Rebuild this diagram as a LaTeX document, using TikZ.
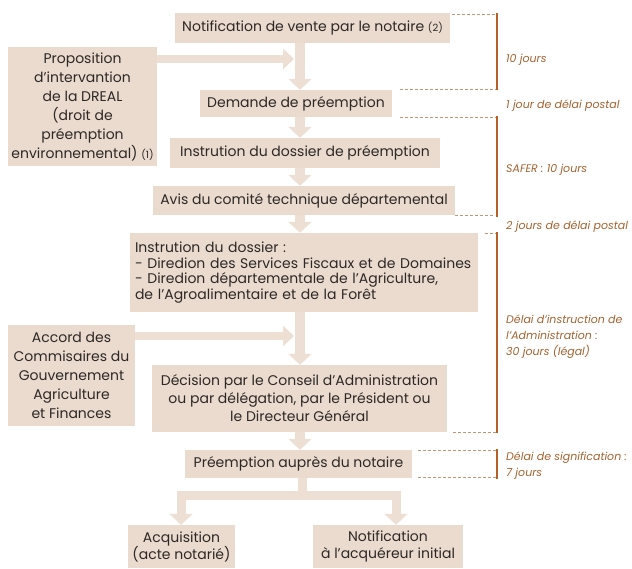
\documentclass[tikz,border=0pt]{standalone}
\usepackage{fontspec}
\setmainfont{Poppins}
\usetikzlibrary{arrows.meta}
\definecolor{boxfill}{RGB}{234,219,206}
\definecolor{arrowfill}{RGB}{237,223,211}
\definecolor{brownline}{RGB}{178,96,38}
\definecolor{labeltext}{RGB}{163,98,48}
\definecolor{boxtext}{RGB}{45,40,38}
\definecolor{dashcol}{RGB}{195,150,115}
\begin{document}
\begin{tikzpicture}[x=1pt,y=-1pt,
  box/.style={fill=boxfill, text=boxtext, inner sep=0pt, align=center,
    font=\fontsize{14}{18}\selectfont},
  flow/.style={draw=arrowfill, line width=10pt, -{Triangle[width=23pt,length=11pt]}},
  sideflow/.style={draw=arrowfill, line width=8pt, -{Triangle[width=20pt,length=11pt]}},
  bracket/.style={draw=brownline, line width=2.5pt},
  dashline/.style={draw=dashcol, line width=0.9pt, dash pattern=on 3pt off 2pt},
  delay/.style={anchor=west, text=labeltext, align=left, inner sep=0pt,
    font=\fontsize{11}{16}\selectfont\itshape}
]
\useasboundingbox (0,0) rectangle (632,568);

% main boxes
\node[box, minimum width=275pt, minimum height=30pt] (b1) at (312.5,28)
  {Notification de vente par le notaire {\fontsize{10}{10}\selectfont(2)}};
\node[box, minimum width=192pt, minimum height=27pt] (b2) at (296,103.5)
  {Demande de préemption};
\node[box, minimum width=270pt, minimum height=30pt] (b3) at (305,153)
  {Instrution du dossier de préemption};
\node[box, minimum width=302pt, minimum height=29pt] (b4) at (304,200.5)
  {Avis du comité technique départemental};
\node[box, minimum width=348pt, minimum height=79pt, text width=338pt, align=left,
  font=\fontsize{14}{15.8}\selectfont] (b5) at (304,272.5)
  {Instrution du dossier :\\
   - Diredion des Services Fiscaux et de Domaines\\
   - Diredion départementale de l’Agriculture,\\
   de l’Agroalimentaire et de la Forêt};
\node[box, minimum width=295pt, minimum height=67pt] (b6) at (299.5,398.5)
  {Décision par le Conseil d’Administration\\
   ou par délégation, par le Président ou\\
   le Directeur Général};
\node[box, minimum width=227pt, minimum height=28pt] (b7) at (298.5,464)
  {Préemption auprès du notaire};
\node[box, minimum width=107pt, minimum height=43pt, font=\fontsize{14}{17}\selectfont] (b8) at (181.5,546.5)
  {Acquisition\\(acte notarié)};
\node[box, minimum width=150pt, minimum height=43pt, font=\fontsize{14}{17}\selectfont] (b9) at (388,546.5)
  {Notification\\à l’acquéreur initial};

% side boxes
\node[box, minimum width=149pt, minimum height=119pt, font=\fontsize{14}{19}\selectfont] (l1) at (82.5,106.5)
  {Proposition\\d’intervantion\\de la DREAL\\(droit de\\préemption\\environnemental) {\fontsize{10}{10}\selectfont(1)}};
\node[box, minimum width=127pt, minimum height=101pt, font=\fontsize{14}{19}\selectfont] (l2) at (71.5,375.5)
  {Accord des\\Commisaires du\\Gouvernement\\Agriculture\\et Finances};

% flow arrows
\coordinate (col) at (300,0);
\coordinate (col2) at (302,0);
\coordinate (j1) at (294,59);
\coordinate (j2) at (294,336);
\coordinate (bar) at (0,495);
\coordinate (rc) at (396,0);
\coordinate (lc) at (181,0);
\draw[flow] (col |- b1.south) -- (col |- b2.north);
\draw[flow] (col |- b2.south) -- (col |- b3.north);
\draw[flow] (col |- b3.south) -- (col |- b4.north);
\draw[flow] (col |- b4.south) -- (col |- b5.north);
\draw[flow] (col |- b5.south) -- (col |- b6.north);
\draw[flow] (col |- b6.south) -- (col |- b7.north);
\draw[sideflow] (l1.east |- j1) -- (j1);
\draw[sideflow] (l2.east |- j2) -- (j2);
\draw[flow, line width=9pt] (col2 |- b7.south) -- (col2 |- bar) -| (lc |- b8.north);
\draw[flow, line width=9pt] (col2 |- b7.south) -- (col2 |- bar) -| (rc |- b9.north);

% delay brackets
\draw[dashline] (452,14) -- (497,14);
\draw[dashline] (400,89.5) -- (497,89.5);
\draw[bracket] (497,13) -- (497,90);
\draw[dashline] (400,117) -- (497,117);
\draw[dashline] (455,215) -- (495,215);
\draw[bracket] (497,116) -- (497,217);
\draw[dashline] (485,233.5) -- (497,233.5);
\draw[dashline] (453,432) -- (497,432);
\draw[bracket] (497,232) -- (497,433);
\draw[dashline] (418,450.5) -- (497,450.5);
\draw[dashline] (418,477.5) -- (497,477.5);
\draw[bracket] (497,449) -- (497,479);

% delay labels
\node[delay] (t1) at (506,60) {10 jours};
\node[delay] (t2) at (506,106) {1 jour de délai postal};
\node[delay] (t3) at (506,170) {SAFER : 10 jours};
\node[delay] (t4) at (506,227) {2 jours de délai postal};
\node[delay] (t5) at (506,337) {Délai d’instruction de\\l’Administration :\\30 jours (légal)};
\node[delay] (t6) at (506,465.5) {Délai de signification :\\7 jours};
\end{tikzpicture}
\end{document}
